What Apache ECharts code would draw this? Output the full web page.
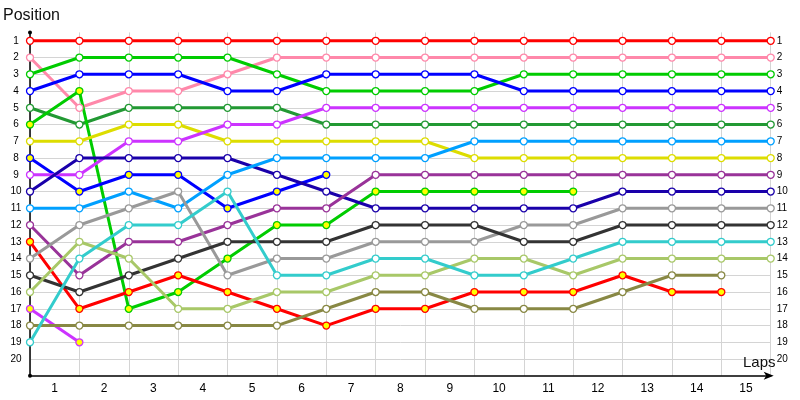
<!DOCTYPE html>
<html>
<head>
<meta charset="utf-8">
<script src="https://cdn.jsdelivr.net/npm/echarts@6/dist/echarts.min.js"></script>
<style>
  html, body { margin: 0; padding: 0; background: #fff; }
  #chart { width: 800px; height: 400px; }
</style>
</head>
<body>
<div id="chart"></div>
<script>
// 圈数（0 = 发车位置）
const laps = [0, 1, 2, 3, 4, 5, 6, 7, 8, 9, 10, 11, 12, 13, 14, 15];
// 横轴标签（画在两条网格线之间）
const lapLabels = ['1', '2', '3', '4', '5', '6', '7', '8', '9', '10', '11', '12', '13', '14', '15'];

// 每辆车每圈的名次
const redA = [1, 1, 1, 1, 1, 1, 1, 1, 1, 1, 1, 1, 1, 1, 1, 1];
const pink = [2, 5, 4, 4, 3, 2, 2, 2, 2, 2, 2, 2, 2, 2, 2, 2];
const greenA = [3, 2, 2, 2, 2, 3, 4, 4, 4, 4, 3, 3, 3, 3, 3, 3];
const blueA = [4, 3, 3, 3, 4, 4, 3, 3, 3, 3, 4, 4, 4, 4, 4, 4];
const darkGreen = [5, 6, 5, 5, 5, 5, 6, 6, 6, 6, 6, 6, 6, 6, 6, 6];
const greenB = [6, 4, 17, 16, 14, 12, 12, 10, 10, 10, 10, 10];
const yellow = [7, 7, 6, 6, 7, 7, 7, 7, 7, 8, 8, 8, 8, 8, 8, 8];
const blueB = [8, 10, 9, 9, 11, 10, 9];
const magentaA = [9, 9, 7, 7, 6, 6, 5, 5, 5, 5, 5, 5, 5, 5, 5, 5];
const navy = [10, 8, 8, 8, 8, 9, 10, 11, 11, 11, 11, 11, 10, 10, 10, 10];
const skyBlue = [11, 11, 10, 11, 9, 8, 8, 8, 8, 7, 7, 7, 7, 7, 7, 7];
const purple = [12, 15, 13, 13, 12, 11, 11, 9, 9, 9, 9, 9, 9, 9, 9, 9];
const redB = [13, 17, 16, 15, 16, 17, 18, 17, 17, 16, 16, 16, 15, 16, 16];
const gray = [14, 12, 11, 10, 15, 14, 14, 13, 13, 13, 12, 12, 11, 11, 11, 11];
const black = [15, 16, 15, 14, 13, 13, 13, 12, 12, 12, 13, 13, 12, 12, 12, 12];
const lightGreen = [16, 13, 14, 17, 17, 16, 16, 15, 15, 14, 14, 15, 14, 14, 14, 14];
const magentaB = [17, 19];
const olive = [18, 18, 18, 18, 18, 18, 17, 16, 16, 17, 17, 17, 16, 15, 15];
const cyan = [19, 14, 12, 12, 10, 15, 15, 14, 14, 15, 15, 14, 13, 13, 13, 13];

// 线条颜色与点的填充色
const cars = [
  { name: 'Red A', pos: redA, color: '#ff0000', fill: '#ffffff' },
  { name: 'Pink', pos: pink, color: '#ff88aa', fill: '#ffffff' },
  { name: 'Green A', pos: greenA, color: '#00cc00', fill: '#ffffff' },
  { name: 'Blue A', pos: blueA, color: '#0000ff', fill: '#ffffff' },
  { name: 'Dark green', pos: darkGreen, color: '#229933', fill: '#ffffff' },
  { name: 'Green B', pos: greenB, color: '#00cc00', fill: '#ffff00' },
  { name: 'Yellow', pos: yellow, color: '#dddd00', fill: '#ffffff' },
  { name: 'Blue B', pos: blueB, color: '#0000ff', fill: '#ffff00' },
  { name: 'Magenta A', pos: magentaA, color: '#cc33ff', fill: '#ffffff' },
  { name: 'Navy', pos: navy, color: '#1a00aa', fill: '#ffffff' },
  { name: 'Sky blue', pos: skyBlue, color: '#00a0ff', fill: '#ffffff' },
  { name: 'Purple', pos: purple, color: '#993399', fill: '#ffffff' },
  { name: 'Red B', pos: redB, color: '#ff0000', fill: '#ffff00' },
  { name: 'Gray', pos: gray, color: '#999999', fill: '#ffffff' },
  { name: 'Black', pos: black, color: '#333333', fill: '#ffffff' },
  { name: 'Light green', pos: lightGreen, color: '#a8c868', fill: '#ffffff' },
  { name: 'Magenta B', pos: magentaB, color: '#cc33ff', fill: '#ffff00' },
  { name: 'Olive', pos: olive, color: '#888844', fill: '#ffffff' },
  { name: 'Cyan', pos: cyan, color: '#33cccc', fill: '#ffffff' }
];

const FONT = 'Liberation Sans';

// 纵轴每 0.5 一个刻度，只在整数名次 1..20 画网格线
const yTicks = [];
for (let v = 0.5; v <= 21; v += 0.5) yTicks.push(v);
const ySplitColors = yTicks.map(v => (Number.isInteger(v) && v >= 1 && v <= 20) ? '#d4d4d4' : 'rgba(0,0,0,0)');
const rowLabel = v => (Number.isInteger(v) && v >= 1 && v <= 20) ? String(v) : '';

const chart = echarts.init(document.getElementById('chart'));

chart.setOption({
  animation: false,
  backgroundColor: '#fff',
  title: [
    {
      text: 'Position',
      left: -2,
      top: 3,
      textStyle: { fontFamily: FONT, fontSize: 16, fontWeight: 'normal', color: '#111' }
    },
    {
      text: 'Laps',
      left: 738,
      top: 350,
      textStyle: { fontFamily: FONT, fontSize: 15, fontWeight: 'normal', color: '#111' }
    }
  ],
  grid: { left: 30, right: 29.3, top: 32.4, bottom: 24.2, outerBoundsMode: 'none' },
  xAxis: [
    {
      type: 'value',
      min: 0,
      max: 15,
      interval: 1,
      axisLine: {
        show: true,
        lineStyle: { color: '#000', width: 1.5 },
        symbol: ['none', 'arrow'],
        symbolSize: [6, 10],
        symbolOffset: [0, 3]
      },
      axisTick: { show: false },
      axisLabel: { show: false },
      splitLine: { show: true, lineStyle: { color: '#d4d4d4', width: 1 } }
    },
    {
      type: 'category',
      position: 'bottom',
      data: lapLabels,
      boundaryGap: true,
      axisLine: { show: false },
      axisTick: { show: false },
      splitLine: { show: false },
      axisLabel: { fontFamily: FONT, fontSize: 12, color: '#000', margin: 7 }
    }
  ],
  yAxis: [
    {
      type: 'value',
      inverse: true,
      min: 0.5,
      max: 21,
      interval: 0.5,
      axisLine: {
        show: true,
        lineStyle: { color: '#000', width: 1.5 },
        symbol: ['circle', 'circle'],
        symbolSize: [4, 4]
      },
      axisTick: { show: false },
      axisLabel: {
        fontFamily: FONT, fontSize: 10, color: '#000',
        align: 'center', margin: 14,
        formatter: rowLabel
      },
      splitLine: { show: true, lineStyle: { color: ySplitColors, width: 1 } }
    },
    {
      type: 'value',
      inverse: true,
      position: 'right',
      min: 0.5,
      max: 21,
      interval: 0.5,
      axisLine: { show: false },
      axisTick: { show: false },
      axisLabel: {
        fontFamily: FONT, fontSize: 10, color: '#000', margin: 6,
        formatter: rowLabel
      },
      splitLine: { show: false }
    }
  ],
  series: cars.map(car => ({
    name: car.name,
    type: 'line',
    xAxisIndex: 0,
    yAxisIndex: 0,
    data: car.pos.map((p, i) => [laps[i], p]),
    symbol: 'circle',
    symbolSize: 7,
    showAllSymbol: true,
    lineStyle: { color: car.color, width: 3 },
    itemStyle: { color: car.fill, borderColor: car.color, borderWidth: 1.3 },
    emphasis: { disabled: true }
  }))
});
</script>
</body>
</html>
